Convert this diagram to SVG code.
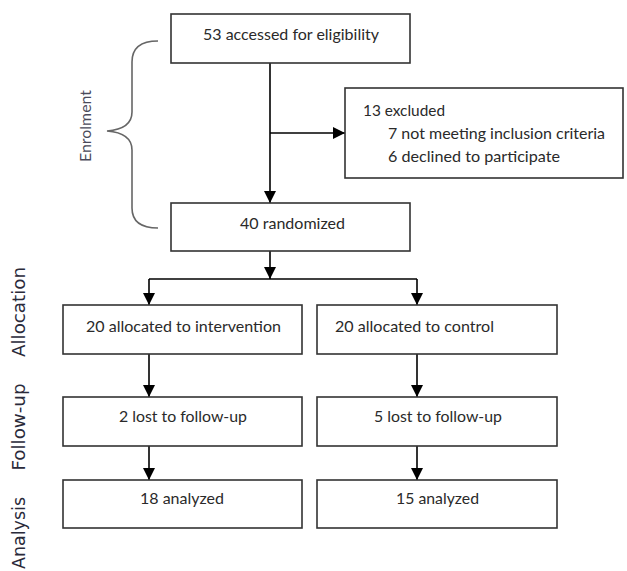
<svg xmlns="http://www.w3.org/2000/svg" width="627" height="571" viewBox="0 0 627 571">
<defs>
<style>
.box{fill:#fff;stroke:#333;stroke-width:1.6}
.t{font-family:Lato,"Liberation Sans",sans-serif;font-size:15px;fill:#2a2a2a}
.side{font-family:"DejaVu Sans","Liberation Sans",sans-serif;font-size:17px;fill:#2a2a3a}
.enr{font-family:Lato,"Liberation Sans",sans-serif;font-size:15px;fill:#4a4a5a}
.ln{fill:none;stroke:#000;stroke-width:1.6}
.brace{fill:none;stroke:#666;stroke-width:1.6}
</style>
<marker id="ah" markerUnits="userSpaceOnUse" markerWidth="12" markerHeight="13" refX="12" refY="6" orient="auto">
<path d="M0,0 L12,6 L0,12 z" fill="#000"/>
</marker>
</defs>
<g id="labels">
<text class="enr" transform="translate(91,126) rotate(-90)" text-anchor="middle" textLength="72" lengthAdjust="spacingAndGlyphs">Enrolment</text>
<text class="side" transform="translate(25,312) rotate(-90)" text-anchor="middle" textLength="90" lengthAdjust="spacingAndGlyphs">Allocation</text>
<text class="side" transform="translate(25,427) rotate(-90)" text-anchor="middle" textLength="87" lengthAdjust="spacingAndGlyphs">Follow-up</text>
<text class="side" transform="translate(25,533) rotate(-90)" text-anchor="middle" textLength="72" lengthAdjust="spacingAndGlyphs">Analysis</text>
<path class="brace" d="M158,41 Q132,41 132,62 L132,112 Q132,129 107,131 Q132,133 132,150 L132,208 Q132,228 158,228"/>
</g>
<g id="connectors">
<line class="ln" x1="270" y1="63" x2="270" y2="203" marker-end="url(#ah)"/>
<line class="ln" x1="270" y1="133" x2="345" y2="133" marker-end="url(#ah)"/>
<line class="ln" x1="270" y1="251" x2="270" y2="279" marker-end="url(#ah)"/>
<line class="ln" x1="149" y1="279" x2="417" y2="279"/>
<line class="ln" x1="149" y1="279" x2="149" y2="305" marker-end="url(#ah)"/>
<line class="ln" x1="417" y1="279" x2="417" y2="305" marker-end="url(#ah)"/>
<line class="ln" x1="149" y1="354" x2="149" y2="397" marker-end="url(#ah)"/>
<line class="ln" x1="417" y1="354" x2="417" y2="397" marker-end="url(#ah)"/>
<line class="ln" x1="149" y1="446" x2="149" y2="480" marker-end="url(#ah)"/>
<line class="ln" x1="417" y1="446" x2="417" y2="480" marker-end="url(#ah)"/>
</g>
<g id="assessed">
<rect class="box" x="171" y="14" width="239" height="49"/>
<text class="t" x="203" y="40" textLength="176" lengthAdjust="spacingAndGlyphs">53 accessed for eligibility</text>
</g>
<g id="excluded">
<rect class="box" x="345" y="88" width="278" height="90"/>
<text class="t" x="363" y="116" textLength="82" lengthAdjust="spacingAndGlyphs">13 excluded</text>
<text class="t" x="388" y="139" textLength="217" lengthAdjust="spacingAndGlyphs">7 not meeting inclusion criteria</text>
<text class="t" x="388" y="162" textLength="172" lengthAdjust="spacingAndGlyphs">6 declined to participate</text>
</g>
<g id="randomized">
<rect class="box" x="171" y="203" width="239" height="48"/>
<text class="t" x="240" y="229" textLength="105" lengthAdjust="spacingAndGlyphs">40 randomized</text>
</g>
<g id="alloc-int">
<rect class="box" x="63" y="305" width="239" height="49"/>
<text class="t" x="86" y="332" textLength="195" lengthAdjust="spacingAndGlyphs">20 allocated to intervention</text>
</g>
<g id="alloc-ctrl">
<rect class="box" x="317" y="305" width="240" height="49"/>
<text class="t" x="335" y="332" textLength="159" lengthAdjust="spacingAndGlyphs">20 allocated to control</text>
</g>
<g id="lost-int">
<rect class="box" x="63" y="397" width="239" height="49"/>
<text class="t" x="119" y="422" textLength="128" lengthAdjust="spacingAndGlyphs">2 lost to follow-up</text>
</g>
<g id="lost-ctrl">
<rect class="box" x="317" y="397" width="240" height="49"/>
<text class="t" x="374" y="422" textLength="128" lengthAdjust="spacingAndGlyphs">5 lost to follow-up</text>
</g>
<g id="an-int">
<rect class="box" x="63" y="480" width="239" height="48"/>
<text class="t" x="140" y="504" textLength="84" lengthAdjust="spacingAndGlyphs">18 analyzed</text>
</g>
<g id="an-ctrl">
<rect class="box" x="317" y="480" width="240" height="48"/>
<text class="t" x="396" y="504" textLength="83" lengthAdjust="spacingAndGlyphs">15 analyzed</text>
</g>
</svg>
